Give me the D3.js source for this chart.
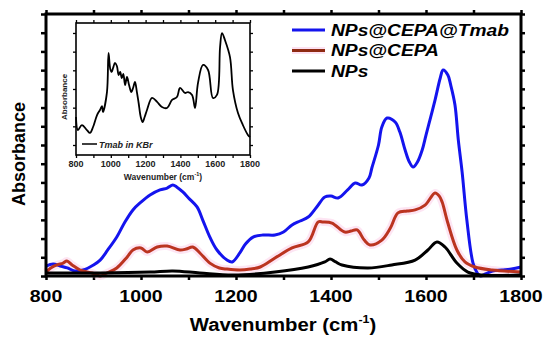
<!DOCTYPE html>
<html>
<head>
<meta charset="utf-8">
<script src="https://cdn.jsdelivr.net/npm/d3@7"></script>
<style>
  body { margin: 0; background: #fff; }
  text { font-family: Arial, "Liberation Sans", sans-serif; }
</style>
</head>
<body>
<div id="chart"></div>
<script>
// FTIR spectra (arbitrary absorbance units)
const blueWn = [800,815,830,845,860,878,900,914,930,949,965,983,1000,1019,1040,1055,1067,1075,1088,1100,1118,1130,1145,1160,1181,1192,1208,1220,1236,1257,1282,1300,1318,1335,1352,1370,1387,1400,1415,1435,1451,1465,1480,1486,1500,1507,1518,1535,1545,1556,1565,1573,1582,1592,1600,1610,1619,1630,1636,1646,1652,1661,1668,1676,1686,1699,1708,1715,1725,1740,1760,1780,1800];
const blueAbs = [.053,.064,.053,.043,.027,.032,.059,.085,.139,.208,.283,.353,.395,.433,.460,.470,.486,.476,.449,.417,.369,.299,.208,.139,.085,.075,.123,.171,.208,.219,.219,.235,.273,.294,.315,.369,.422,.427,.417,.460,.497,.486,.524,.577,.700,.796,.844,.823,.769,.673,.609,.582,.609,.673,.753,.850,.940,1.058,1.101,1.074,1.021,.914,.727,.556,.299,.069,.016,0,.011,.027,.032,.037,.048];

const redWn = [800,810,823,836,844,855,872,897,914,928,949,971,983,1000,1013,1034,1055,1082,1095,1109,1124,1145,1165,1181,1208,1230,1251,1282,1318,1352,1373,1383,1402,1429,1442,1455,1470,1482,1507,1525,1541,1560,1577,1598,1619,1628,1634,1646,1665,1682,1703,1739,1798];
const redAbs = [.021,.043,.059,.069,.080,.059,.032,.016,0,.016,.043,.102,.139,.150,.128,.155,.160,.139,.144,.155,.123,.069,.043,.037,.032,.037,.048,.096,.150,.182,.289,.289,.283,.235,.240,.246,.192,.166,.192,.256,.337,.347,.353,.379,.444,.427,.395,.283,.139,.075,.048,.032,.021];

const blackWn = [800,914,1019,1067,1124,1194,1282,1352,1387,1398,1410,1423,1478,1528,1577,1604,1623,1640,1665,1688,1718,1798];
const blackAbs = [.016,.016,.021,.027,.016,.005,.021,.048,.075,.091,.075,.059,.043,.059,.085,.139,.182,.155,.069,.021,.005,.005];

// inset: Tmab in KBr (normalised)
const tmabWn = [800,811,834,863,880,898,921,938,949,955,978,987,997,1005,1013,1024,1035,1045,1054,1063,1072,1082,1093,1105,1118,1128,1139,1150,1160,1172,1183,1195,1208,1237,1266,1294,1323,1352,1380,1398,1426,1444,1467,1484,1501,1530,1559,1587,1610,1628,1639,1656,1685,1702,1731,1759,1788,1800];
const tmabAbs = [.288,.189,.227,.189,.167,.212,.303,.341,.371,.326,.477,.773,.652,.629,.659,.697,.674,.606,.629,.583,.614,.530,.591,.530,.477,.508,.553,.477,.394,.288,.250,.290,.341,.432,.402,.364,.356,.417,.439,.508,.470,.477,.455,.356,.545,.682,.644,.432,.455,.818,.924,.871,.742,.492,.318,.227,.152,.136];

const seriesNames = ['NPs@CEPA@Tmab', 'NPs@CEPA', 'NPs'];
const seriesColors = ['#1414ee', '#bb3420', '#000000'];
const xTickLabels = [800, 1000, 1200, 1400, 1600, 1800];

const W = 550, H = 340;
const margin = {top: 14, right: 29, bottom: 64, left: 46};
const width = W - margin.left - margin.right,
      height = H - margin.top - margin.bottom;

const svg = d3.select('#chart').append('svg')
  .attr('width', W).attr('height', H);

const g = svg.append('g')
  .attr('transform', 'translate(' + margin.left + ',' + margin.top + ')');

const x = d3.scaleLinear().domain([800, 1800]).range([0, width]);
const y = d3.scaleLinear().domain([0, 1.4]).range([height, 0]);

const line = d3.line()
  .x(d => x(d[0]))
  .y(d => y(d[1]))
  .curve(d3.curveCatmullRom.alpha(0.5));

const zip = (a, b) => a.map((v, i) => [v, b[i]]);

// ticks
const xTicks = d3.range(800, 1801, 100);
const yTicks = d3.range(0, 1.401, 0.1);

function tickStyle(sel) {
  sel.select('.domain').remove();
  sel.selectAll('.tick line').attr('stroke', '#000').attr('stroke-width', 2.5);
}

g.append('g').attr('transform', 'translate(0,' + height + ')')
  .call(d3.axisBottom(x).tickValues(xTicks).tickSize(4).tickFormat(''))
  .call(tickStyle);
g.append('g')
  .call(d3.axisTop(x).tickValues(xTicks).tickSize(4).tickFormat(''))
  .call(tickStyle);
g.append('g')
  .call(d3.axisLeft(y).tickValues(yTicks).tickSize(5).tickFormat(''))
  .call(tickStyle);
g.append('g').attr('transform', 'translate(' + width + ',0)')
  .call(d3.axisRight(y).tickValues(yTicks).tickSize(4).tickFormat(''))
  .call(tickStyle);

// x tick labels (slightly stretched like the original)
g.selectAll('.xlab').data(xTickLabels).enter().append('text')
  .attr('transform', d => 'translate(' + x(d) + ',' + (height + 26) + ') scale(1.15,1)')
  .attr('text-anchor', 'middle')
  .attr('font-size', 17).attr('font-weight', 'bold')
  .text(d => d);

// curves
const data = [zip(blueWn, blueAbs), zip(redWn, redAbs), zip(blackWn, blackAbs)];

// pinkish glow around the red trace, as in the scan
g.append('path').datum(data[1])
  .attr('fill', 'none').attr('stroke', '#f8b4dc').attr('stroke-opacity', 0.35)
  .attr('stroke-width', 8).attr('d', line);

data.forEach((d, i) => {
  g.append('path').datum(d)
    .attr('fill', 'none')
    .attr('stroke', seriesColors[i])
    .attr('stroke-width', 3)
    .attr('stroke-linejoin', 'round')
    .attr('d', line);
});

// frame
g.append('rect')
  .attr('width', width).attr('height', height)
  .attr('fill', 'none').attr('stroke', '#000').attr('stroke-width', 3);

// axis titles
svg.append('text')
  .attr('transform', 'translate(25,154) rotate(-90)')
  .attr('text-anchor', 'middle')
  .attr('font-size', 18).attr('font-weight', 'bold')
  .text('Absorbance');

const xt = svg.append('text')
  .attr('transform', 'translate(283,331) scale(1.13,1)')
  .attr('text-anchor', 'middle')
  .attr('font-size', 18).attr('font-weight', 'bold');
xt.append('tspan').text('Wavenumber (cm');
xt.append('tspan').attr('font-size', 11).attr('dy', -8).text('-1');
xt.append('tspan').attr('dy', 8).text(')');

// legend
const legend = svg.append('g');
seriesNames.forEach((name, i) => {
  const ly = 30 + i * 20.5;
  if (i === 1) {
    legend.append('line')
      .attr('x1', 292).attr('x2', 325).attr('y1', ly).attr('y2', ly)
      .attr('stroke', '#f8b4dc').attr('stroke-opacity', 0.4).attr('stroke-width', 7);
  }
  legend.append('line')
    .attr('x1', 292).attr('x2', 325).attr('y1', ly).attr('y2', ly)
    .attr('stroke', i === 1 ? '#8e2a12' : seriesColors[i]).attr('stroke-width', 3);
  legend.append('text')
    .attr('transform', 'translate(331,' + (ly + 5.5) + ') scale(1.13,1)')
    .attr('font-size', 17).attr('font-weight', 'bold').attr('font-style', 'italic')
    .text(name);
});

// ---- inset ----
const inset = {left: 76, top: 23, right: 250, bottom: 155};
const ix = d3.scaleLinear().domain([800, 1800]).range([inset.left, inset.right]);
const iy = d3.scaleLinear().domain([0, 1]).range([inset.bottom, inset.top]);
const iyTicks = d3.range(7).map(k => (10 + 18.67 * k) / 132);

const ig = svg.append('g');
ig.append('rect')
  .attr('x', inset.left).attr('y', inset.top)
  .attr('width', inset.right - inset.left).attr('height', inset.bottom - inset.top)
  .attr('fill', '#fff');

function thinTicks(sel) {
  sel.select('.domain').remove();
  sel.selectAll('.tick line').attr('stroke', '#000').attr('stroke-width', 1.3);
}
ig.append('g').attr('transform', 'translate(0,' + inset.bottom + ')')
  .call(d3.axisBottom(ix).tickValues(xTicks).tickSize(3).tickFormat('')).call(thinTicks);
ig.append('g').attr('transform', 'translate(0,' + inset.top + ')')
  .call(d3.axisTop(ix).tickValues(xTicks).tickSize(3).tickFormat('')).call(thinTicks);
ig.append('g').attr('transform', 'translate(' + inset.left + ',0)')
  .call(d3.axisLeft(iy).tickValues(iyTicks).tickSize(3).tickFormat('')).call(thinTicks);
ig.append('g').attr('transform', 'translate(' + inset.right + ',0)')
  .call(d3.axisRight(iy).tickValues(iyTicks).tickSize(3).tickFormat('')).call(thinTicks);

ig.selectAll('.ixlab').data(xTickLabels).enter().append('text')
  .attr('x', d => ix(d)).attr('y', 167)
  .attr('text-anchor', 'middle')
  .attr('font-size', 9).attr('font-weight', 'bold').attr('fill', '#222')
  .text(d => d);

const ixt = ig.append('text')
  .attr('x', 163).attr('y', 180)
  .attr('text-anchor', 'middle')
  .attr('font-size', 8.5).attr('font-weight', 'bold').attr('fill', '#222');
ixt.append('tspan').text('Wavenumber (cm');
ixt.append('tspan').attr('font-size', 5.5).attr('dy', -4).text('-1');
ixt.append('tspan').attr('dy', 4).text(')');

ig.append('text')
  .attr('transform', 'translate(67,97) rotate(-90)')
  .attr('text-anchor', 'middle')
  .attr('font-size', 8).attr('font-weight', 'bold').attr('fill', '#222')
  .text('Absorbance');

const iline = d3.line()
  .x(d => ix(d[0]))
  .y(d => iy(d[1]))
  .curve(d3.curveCatmullRom.alpha(0.5));

ig.append('path').datum(zip(tmabWn, tmabAbs))
  .attr('fill', 'none').attr('stroke', '#000').attr('stroke-width', 1.8)
  .attr('stroke-linejoin', 'round')
  .attr('d', iline);

ig.append('rect')
  .attr('x', inset.left).attr('y', inset.top)
  .attr('width', inset.right - inset.left).attr('height', inset.bottom - inset.top)
  .attr('fill', 'none').attr('stroke', '#000').attr('stroke-width', 1.6);

ig.append('line')
  .attr('x1', 82).attr('x2', 97).attr('y1', 144).attr('y2', 144)
  .attr('stroke', '#000').attr('stroke-width', 1.5);
ig.append('text')
  .attr('x', 99).attr('y', 147.5)
  .attr('font-size', 9).attr('font-weight', 'bold').attr('font-style', 'italic')
  .attr('fill', '#222')
  .text('Tmab in KBr');
</script>
</body>
</html>
